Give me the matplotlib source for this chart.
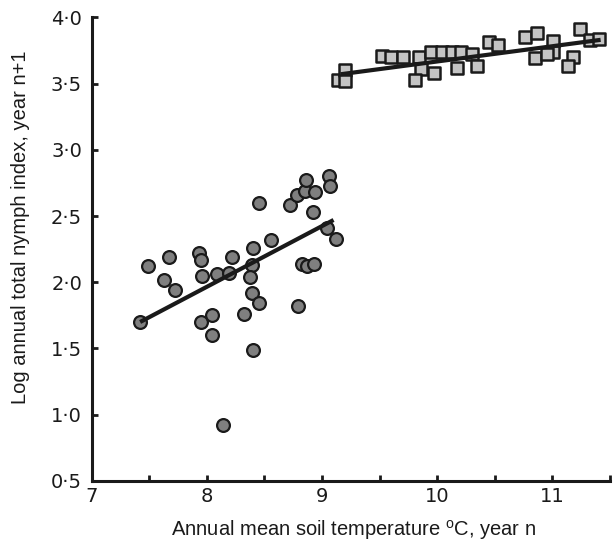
import matplotlib
matplotlib.use("Agg")
import matplotlib.pyplot as plt
import numpy as np
from matplotlib.ticker import MultipleLocator, FuncFormatter

plt.rcParams['mathtext.fontset'] = 'custom'
plt.rcParams['mathtext.rm'] = 'Liberation Sans'

# soil temperature (x) vs log nymph index (y), two groups
circ_x = [7.42, 7.49, 7.67, 7.63, 7.72, 7.93, 7.95, 7.96, 8.09, 8.19,
          8.22, 7.95, 8.04, 8.04, 8.14, 8.40, 8.39, 8.37, 8.39, 8.45,
          8.32, 8.40, 8.45, 8.56, 8.72, 8.78, 8.85, 8.86, 8.94, 9.06,
          9.07, 8.92, 9.04, 9.12, 8.83, 8.87, 8.93, 8.79]
circ_y = [1.70, 2.12, 2.19, 2.02, 1.94, 2.22, 2.17, 2.05, 2.06, 2.07,
          2.19, 1.70, 1.75, 1.60, 0.92, 2.26, 2.13, 2.04, 1.92, 1.84,
          1.76, 1.49, 2.60, 2.32, 2.58, 2.66, 2.69, 2.77, 2.68, 2.80,
          2.73, 2.53, 2.41, 2.33, 2.14, 2.12, 2.14, 1.82]
circ_fit_x = [7.42, 9.10]
circ_fit_y = [1.70, 2.47]

sq_x = [9.14, 9.20, 9.20, 9.52, 9.60, 9.70, 9.84, 9.86, 9.81, 9.97,
        9.95, 10.04, 10.13, 10.21, 10.17, 10.30, 10.35, 10.45, 10.53, 10.76,
        10.87, 10.85, 11.01, 11.01, 10.95, 11.18, 11.14, 11.24, 11.33, 11.41]
sq_y = [3.53, 3.60, 3.52, 3.71, 3.70, 3.70, 3.70, 3.61, 3.53, 3.58,
        3.74, 3.74, 3.74, 3.74, 3.62, 3.72, 3.63, 3.81, 3.79, 3.85,
        3.88, 3.69, 3.82, 3.74, 3.72, 3.70, 3.63, 3.91, 3.83, 3.84]
sq_fit_x = [9.16, 11.42]
sq_fit_y = [3.57, 3.83]

fig = plt.figure(figsize=(6.16, 5.41), dpi=100)
ax = fig.add_axes([0.149, 0.111, 0.841, 0.857])

ax.scatter(circ_x, circ_y, s=85, marker='o', facecolor='#7f7f7f',
           edgecolor='#1a1a1a', linewidth=1.6, zorder=3, clip_on=False)
ax.plot(circ_fit_x, circ_fit_y, color='#1a1a1a', lw=3.0, zorder=4,
        solid_capstyle='butt')

ax.scatter(sq_x, sq_y, s=70, marker='s', facecolor='#c4c4c4',
           edgecolor='#1a1a1a', linewidth=1.8, zorder=3, clip_on=False)
ax.plot(sq_fit_x, sq_fit_y, color='#1a1a1a', lw=3.0, zorder=4,
        solid_capstyle='butt')

ax.set_xlim(7, 11.5)
ax.set_ylim(0.5, 4.0)
for side in ['top', 'right']:
    ax.spines[side].set_visible(False)
for side in ['left', 'bottom']:
    ax.spines[side].set_linewidth(2.2)
    ax.spines[side].set_color('#1a1a1a')

ax.xaxis.set_major_locator(MultipleLocator(1))
ax.xaxis.set_minor_locator(MultipleLocator(0.5))
ax.yaxis.set_major_locator(MultipleLocator(0.5))
ax.yaxis.set_major_formatter(FuncFormatter(lambda v, p: f"{v:.1f}".replace('.', '\u00b7')))
ax.xaxis.set_major_formatter(FuncFormatter(lambda v, p: f"{v:.0f}"))
ax.tick_params(axis='both', which='both', direction='in', length=4,
               width=2.0, color='#1a1a1a', labelsize=14, labelcolor='#1a1a1a')
ax.tick_params(axis='x', pad=4)
ax.tick_params(axis='y', pad=7)

ax.set_xlabel(r"Annual mean soil temperature $^{\mathrm{o}}$C, year n",
              fontfamily='Liberation Sans', fontsize=14.5, color='#1a1a1a')
ax.set_ylabel("Log annual total nymph index, year n+1",
              fontfamily='Liberation Sans', fontsize=14.5, color='#1a1a1a')
ax.xaxis.set_label_coords(0.506, -0.080)
ax.yaxis.set_label_coords(-0.119, 0.547)

fig.savefig("out.png", dpi=100)
